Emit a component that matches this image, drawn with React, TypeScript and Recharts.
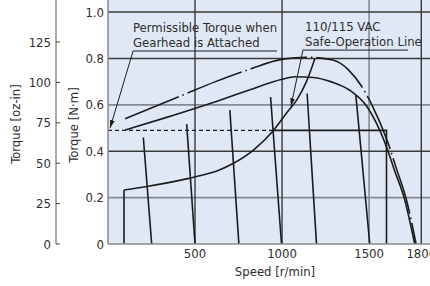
import { LineChart, Line, XAxis, YAxis, CartesianGrid, ReferenceLine } from 'recharts'

const Y_MAX = 1.052
const OZ_MAX = 151 // oz-in scale as drawn on the left axis
const X_MAX = 1850

const speedTicks = [500, 1000, 1500, 1800]
const nmTicks = [0, 0.2, 0.4, 0.6, 0.8, 1.0]
const ozTicks = [0, 25, 50, 75, 100, 125]

const gridDarkX = [500, 1000, 1800]
const gridLightX = [1500]
const gridDarkY = [0.4, 0.8, 1.0]
const gridLightY = [0.2, 0.6]

// upper (dash-dot) torque curve
const upperRpm    = [98, 423, 614, 815, 1005, 1150, 1292, 1380, 1457, 1516, 1607, 1657, 1715, 1770]
const upperTorque = [0.540, 0.640, 0.699, 0.754, 0.797, 0.805, 0.793, 0.752, 0.680, 0.600, 0.440, 0.325, 0.190, 0]

// lower (solid) torque curve
const lowerRpm    = [98, 337, 643, 816, 1000, 1073, 1180, 1284, 1389, 1485, 1561, 1602, 1645, 1705, 1762]
const lowerTorque = [0.491, 0.546, 0.620, 0.665, 0.710, 0.721, 0.718, 0.699, 0.663, 0.595, 0.491, 0.415, 0.320, 0.190, 0]

// 110/115 VAC safe-operation line
const safeStartRpm = 92
const safeRpm    = [92, 222, 471, 643, 718, 834, 949, 1026, 1084, 1140, 1189]
const safeTorque = [0.233, 0.248, 0.284, 0.320, 0.347, 0.404, 0.488, 0.565, 0.62, 0.70, 0.80]

// speed-torque lines at fixed settings
const settingTopRpm    = [203, 452, 700, 934, 1144, 1424]
const settingTopTorque = [0.459, 0.517, 0.577, 0.634, 0.649, 0.642]
const settingEndRpm    = [251, 500, 752, 997, 1198, 1504]

// permissible torque with gearhead
const gearTorque = 0.49
const gearDashEndRpm = 948
const gearLimitRpm = 1600

const zip = (xs: number[], ys: number[]) => xs.map((rpm, i) => ({ rpm, t: ys[i] }))

const upperData = zip(upperRpm, upperTorque)
const lowerData = zip(lowerRpm, lowerTorque)
const safeData = zip(safeRpm, safeTorque)
const safeVertical = [{ rpm: safeStartRpm, t: 0 }, { rpm: safeStartRpm, t: safeTorque[0] }]
const settingLines = settingTopRpm.map((r, i) => [
  { rpm: r, t: settingTopTorque[i] },
  { rpm: settingEndRpm[i], t: 0 },
])
const gearDash = [{ rpm: 0, t: gearTorque }, { rpm: gearDashEndRpm, t: gearTorque }]
const gearSolid = [
  { rpm: gearDashEndRpm, t: gearTorque },
  { rpm: gearLimitRpm, t: gearTorque },
  { rpm: gearLimitRpm, t: 0 },
]

const FONT = '"Liberation Sans Narrow", "DejaVu Sans Condensed", "Arial Narrow", sans-serif'
const INK = '#1c1c1c'
const TEXT = '#2e2e2e'
const DARK_GRID = '#3a3a3a'
const LIGHT_GRID = '#858a94'

function OzTick({ x, y, payload }: any) {
  return (
    <g>
      <line x1={x + 5} x2={x + 9} y1={y} y2={y} stroke="#444" strokeWidth={1} />
      <text x={x} y={y} dy="0.35em" textAnchor="end" fontSize={13} fill={TEXT} fontFamily={FONT}>
        {payload.value}
      </text>
    </g>
  )
}

const lineProps = {
  dataKey: 't',
  stroke: INK,
  strokeWidth: 1.6,
  dot: false,
  activeDot: false,
  isAnimationActive: false,
} as const

export default function App() {
  return (
    <div style={{ position: 'absolute', left: 0, top: 0, width: 430, height: 286, fontFamily: FONT, color: TEXT }}>
      <svg width={0} height={0} style={{ position: 'absolute' }}>
        <defs>
          <marker id="arrowHead" viewBox="0 0 10 10" refX="10" refY="5" markerWidth="8" markerHeight="8"
            orient="auto" markerUnits="userSpaceOnUse">
            <path d="M0,2 L10,5 L0,8 z" fill={INK} />
          </marker>
        </defs>
      </svg>
      <LineChart width={430} height={286} margin={{ top: 0, right: 0, bottom: 0, left: 0 }}>
        <CartesianGrid horizontal={false} vertical={false} fill="#e0e8f5" />
        <XAxis
          dataKey="rpm"
          type="number"
          domain={[0, X_MAX]}
          ticks={speedTicks}
          interval={0}
          allowDataOverflow
          height={42}
          tickLine={false}
          tickSize={0}
          tickMargin={5}
          axisLine={{ stroke: '#8a8a8a', strokeWidth: 1.5 }}
          tick={{ fontSize: 13, fill: TEXT, fontFamily: FONT }}
        />
        <YAxis
          type="number"
          domain={[0, Y_MAX]}
          ticks={nmTicks}
          interval={0}
          allowDataOverflow
          width={52}
          tickLine={false}
          tickSize={0}
          tickMargin={4}
          axisLine={{ stroke: '#8a8a8a', strokeWidth: 1.5 }}
          tick={{ fontSize: 13, fill: TEXT, fontFamily: FONT }}
          tickFormatter={(v: number) => (v === 0 ? '0' : v.toFixed(1))}
        />
        <YAxis
          yAxisId="oz"
          type="number"
          domain={[0, OZ_MAX]}
          ticks={ozTicks}
          interval={0}
          allowDataOverflow
          width={56}
          tickLine={false}
          tickSize={0}
          tickMargin={5}
          axisLine={{ stroke: '#555', strokeWidth: 1 }}
          tick={<OzTick />}
        />

        {gridLightY.map(v => <ReferenceLine key={`ly${v}`} y={v} stroke={LIGHT_GRID} strokeWidth={1.6} />)}
        {gridLightX.map(v => <ReferenceLine key={`lx${v}`} x={v} stroke={LIGHT_GRID} strokeWidth={1.6} />)}
        {gridDarkY.map(v => <ReferenceLine key={`dy${v}`} y={v} stroke={DARK_GRID} strokeWidth={1.4} />)}
        {gridDarkX.map(v => <ReferenceLine key={`dx${v}`} x={v} stroke={DARK_GRID} strokeWidth={1.4} />)}

        <Line {...lineProps} data={upperData} type="monotone" strokeDasharray="58 4 1.5 4" />
        <Line {...lineProps} data={lowerData} type="monotone" />
        <Line {...lineProps} data={safeVertical} type="linear" />
        <Line {...lineProps} data={safeData} type="monotone" />
        {settingLines.map((d, i) => (
          <Line key={`s${i}`} {...lineProps} data={d} type="linear" />
        ))}
        <Line {...lineProps} data={gearDash} type="linear" strokeDasharray="4 3" strokeWidth={1.4} />
        <Line {...lineProps} data={gearSolid} type="linear" />

        {/* annotation leaders */}
        <ReferenceLine segment={[{ x: 144, y: 0.832 }, { x: 971, y: 0.832 }]} stroke={INK} strokeWidth={1} ifOverflow="visible" />
        <ReferenceLine segment={[{ x: 144, y: 0.832 }, { x: 12, y: 0.5 }]} stroke={INK} strokeWidth={1}
          markerEnd="url(#arrowHead)" ifOverflow="visible" />
        <ReferenceLine segment={[{ x: 1120, y: 0.836 }, { x: 1724, y: 0.836 }]} stroke={INK} strokeWidth={1} ifOverflow="visible" />
        <ReferenceLine segment={[{ x: 1120, y: 0.836 }, { x: 1051, y: 0.594 }]} stroke={INK} strokeWidth={1}
          markerEnd="url(#arrowHead)" ifOverflow="visible" />
      </LineChart>

      <div style={{ position: 'absolute', left: 133, top: 20, fontSize: 13, lineHeight: '15px', whiteSpace: 'nowrap' }}>
        Permissible Torque when<br />Gearhead is Attached
      </div>
      <div style={{ position: 'absolute', left: 305, top: 19, fontSize: 13, lineHeight: '15px', whiteSpace: 'nowrap' }}>
        110/115 VAC<br />Safe-Operation Line
      </div>
      <div style={{ position: 'absolute', left: 15, top: 124, fontSize: 13, whiteSpace: 'nowrap', transform: 'translate(-50%, -50%) rotate(-90deg)' }}>
        Torque [oz-in]
      </div>
      <div style={{ position: 'absolute', left: 73, top: 125, fontSize: 13, whiteSpace: 'nowrap', transform: 'translate(-50%, -50%) rotate(-90deg)' }}>
        Torque [N·m]
      </div>
      <div style={{ position: 'absolute', left: 275, top: 271, fontSize: 13, whiteSpace: 'nowrap', transform: 'translate(-50%, -50%)' }}>
        Speed [r/min]
      </div>
    </div>
  )
}
